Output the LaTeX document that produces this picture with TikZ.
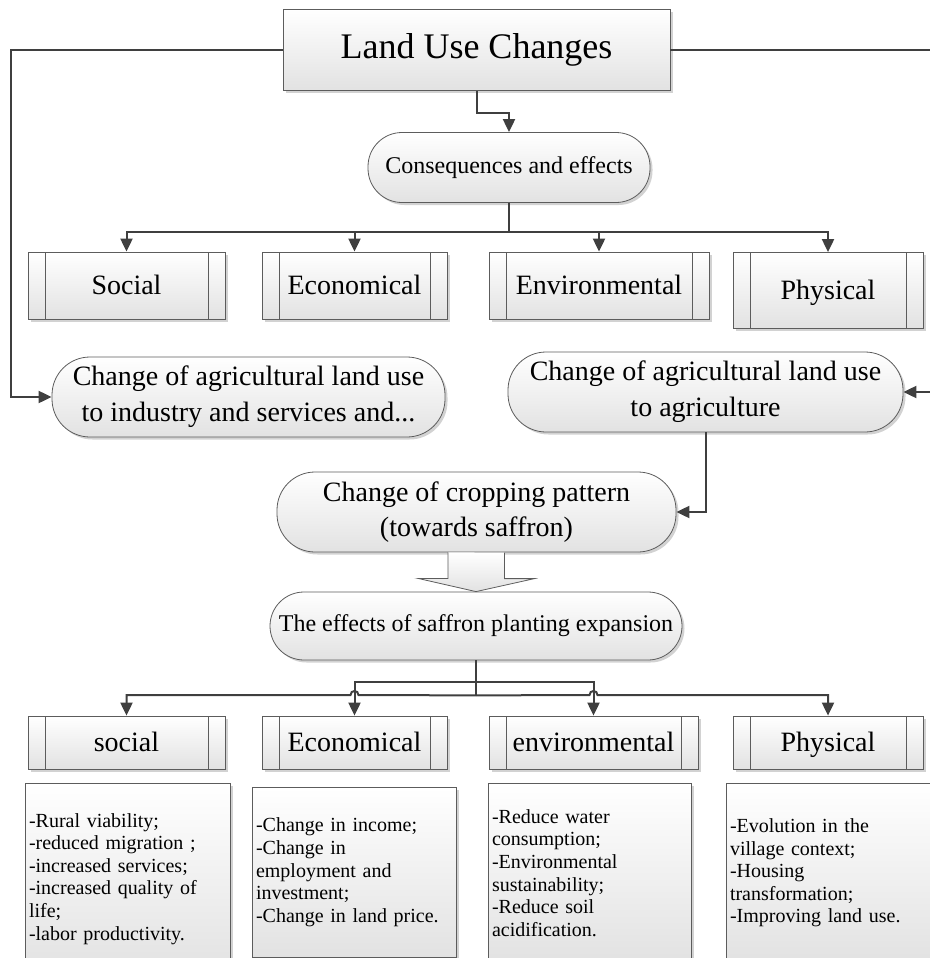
\documentclass[tikz,border=0pt]{standalone}
\usepackage{fontspec}
\setmainfont{Liberation Serif}
\usetikzlibrary{arrows.meta,positioning,shadows}
\definecolor{luline}{HTML}{3F3F3F}
\definecolor{luedge}{HTML}{5C5C5C}
\definecolor{lushade}{HTML}{E2E2E2}

\begin{document}
\begin{tikzpicture}[x=1pt,y=-1pt,
  base/.style={draw=luedge,line width=0.8pt,top color=white,bottom color=lushade,
               drop shadow={shadow xshift=2.5pt,shadow yshift=-2.5pt,fill=black!35},
               inner sep=0pt,align=center},
  procbox/.style={base,minimum height=67pt,font=\fontsize{28}{32}\selectfont,
    text height=21pt,text depth=2.5pt,
    path picture={\draw[luedge,line width=0.6pt]
      ([xshift=17pt]path picture bounding box.north west) -- ([xshift=17pt]path picture bounding box.south west)
      ([xshift=-17pt]path picture bounding box.north east) -- ([xshift=-17pt]path picture bounding box.south east);}},
  pill/.style={base,rounded corners=38pt,minimum height=80pt,font=\fontsize{28}{36}\selectfont},
  note/.style={base,anchor=north,align=left,inner xsep=4pt,font=\fontsize{20}{22.6}\selectfont},
  wire/.style={draw=luline,line width=2pt},
  conn/.style={wire,-{Triangle[length=13pt,width=12pt]}},
  arrowbody/.style={draw=luedge,line width=0.8pt,top color=white,bottom color=lushade}]
\useasboundingbox (0,0) rectangle (929,958);

% top of the chart
\node[base,minimum width=387pt,minimum height=81pt,font=\fontsize{36}{40}\selectfont]
  (lu) at (476.5,50) {Land Use Changes};
\node[pill,minimum width=282pt,minimum height=70pt,rounded corners=34pt,
  font=\fontsize{24}{28}\selectfont] (cons) at (509,167.5) {Consequences and effects};

\node[procbox,minimum width=197pt] (soc1) at (126.5,285.5) {Social};
\node[procbox,minimum width=185pt] (eco1) at (354.5,285.5) {Economical};
\node[procbox,minimum width=220pt] (env1) at (599,285.5) {Environmental};
\node[procbox,minimum width=190pt,minimum height=76pt] (phy1) at (828,290.5) {Physical};

\node[pill,minimum width=393pt] (agriL) at (248.5,397)
  {Change of agricultural land use\\to industry and services and...};
\node[pill,minimum width=395pt] (agriR) at (705.5,392)
  {Change of agricultural land use\\to agriculture};
\node[pill,minimum width=399pt,font=\fontsize{28}{35}\selectfont] (crop) at (476.5,512)
  {Change of cropping pattern\\(towards saffron)};
\node[pill,minimum width=412pt,minimum height=68pt,rounded corners=34pt,
  font=\fontsize{24}{28}\selectfont] (eff) at (476,626)
  {The effects of saffron planting expansion};

% saffron effects
\node[procbox,minimum width=197pt,minimum height=53pt] (soc2) at (126.5,742.5) {social};
\node[procbox,minimum width=185pt,minimum height=53pt] (eco2) at (354.5,742.5) {Economical};
\node[procbox,minimum width=209pt,minimum height=53pt] (env2) at (593.5,742.5) {environmental};
\node[procbox,minimum width=190pt,minimum height=53pt] (phy2) at (828,742.5) {Physical};

\node[note,text width=197pt,minimum height=191pt] (n1) at (127.5,783)
  {-Rural viability;\\-reduced migration ;\\-increased services;\\-increased quality of\\life;\\-labor productivity.};
\node[note,text width=196pt,minimum height=170pt] (n2) at (354,787)
  {-Change in income;\\-Change in\\employment and\\investment;\\-Change in land price.};
\node[note,text width=195pt,minimum height=179pt] (n3) at (589.5,783)
  {-Reduce water\\consumption;\\-Environmental\\sustainability;\\-Reduce soil\\acidification.};
\node[note,text width=202pt,minimum height=179pt] (n4) at (831,783)
  {-Evolution in the\\village context;\\-Housing\\transformation;\\-Improving land use.};

% connectors
\draw[conn] (lu.south) -- ++(0,22) -| (cons.north);
\draw[conn] (lu.west) -- ++(-272,0) |- (agriL.west);
\draw[conn] (lu.east) -- ++(261,0) |- (agriR.east);
\foreach \n in {soc1,eco1,env1,phy1}
  \draw[conn] (cons.south) -- ++(0,29.5) -| (\n.north);
\draw[conn] (agriR.south) |- (crop.east);
\draw[arrowbody] ([xshift=-28.5pt]crop.south) -- ++(0,26) -- ++(-30,0) -- (eff.north)
  -- ++(58.5,-13) -- ++(-30,0) -- ++(0,-26);

\draw[conn] (eff.south) -- ++(0,22) -| (eco2.north);
\draw[conn] (eff.south) -- ++(0,22) -| (env2.north);
\draw[wire] (eff.south) -- ++(0,35) coordinate (bus);
\draw[conn] (bus) -- (358.5,695) .. controls (358.5,689.7) and (350.5,689.7) .. (350.5,695)
  -| (soc2.north);
\draw[conn] (bus) -- (589.5,695) .. controls (589.5,689.7) and (597.5,689.7) .. (597.5,695)
  -| (phy2.north);
\end{tikzpicture}
\end{document}
